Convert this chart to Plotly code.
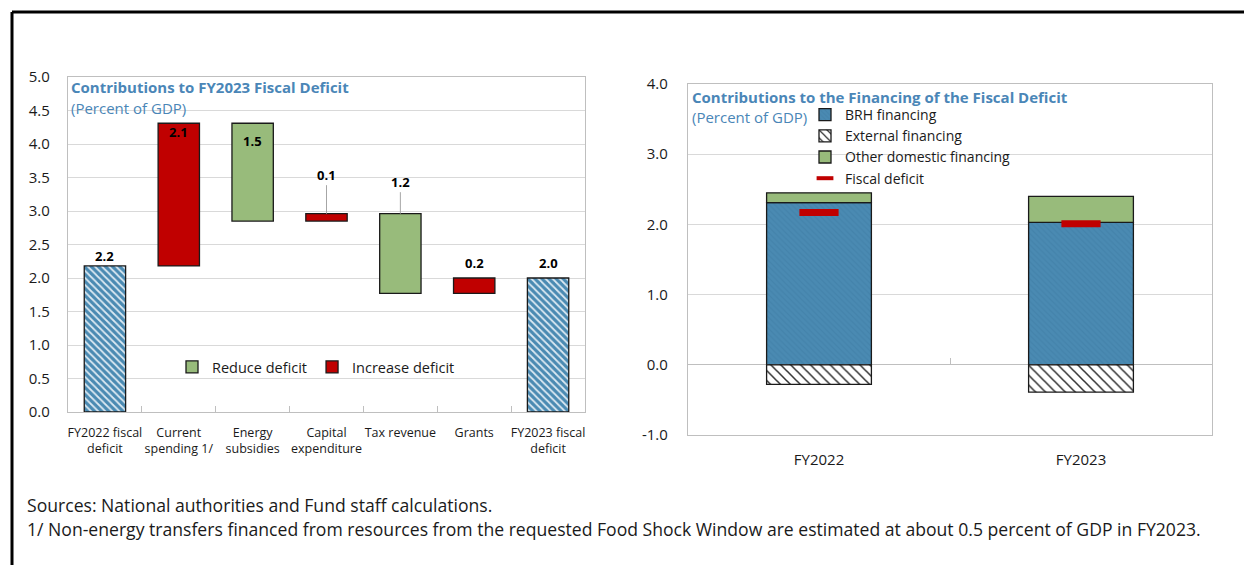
import plotly.graph_objects as go

# ---------------- data ----------------
# Left panel: waterfall of FY2023 fiscal deficit (percent of GDP)
wf_categories = ["FY2022 fiscal<br>deficit", "Current<br>spending 1/", "Energy<br>subsidies",
                 "Capital<br>expenditure", "Tax revenue", "Grants", "FY2023 fiscal<br>deficit"]
fy2022_deficit = 2.18
contributions = [2.13, -1.46, 0.11, -1.19, 0.23]   # current spending .. grants
left_yticks = [0.0, 0.5, 1.0, 1.5, 2.0, 2.5, 3.0, 3.5, 4.0, 4.5, 5.0]

# Right panel: financing of the fiscal deficit (percent of GDP)
years = ["FY2022", "FY2023"]
brh_financing = [2.31, 2.03]
external_financing = [-0.28, -0.39]
other_domestic = [0.14, 0.37]
fiscal_deficit = [2.17, 2.01]
right_yticks = [-1.0, 0.0, 1.0, 2.0, 3.0, 4.0]

# ---------------- styling ----------------
W, H = 1244, 565
FONT = "Open Sans, Noto Sans, sans-serif"
BLUE = "#4a8ab2"
TITLE_BLUE = "#4a86b7"
RED = "#c00000"
GREEN = "#98bb7b"
GRID = "#d9d9d9"
FRAME = "#bfbfbf"
TXT = "#1a1a1a"


def px_x(px):
    return px / W


def px_y(py):
    return 1 - py / H


left_dom_x = [px_x(68), px_x(585)]
left_dom_y = [px_y(412), px_y(77)]
right_dom_x = [px_x(688), px_x(1212)]
right_dom_y = [px_y(435), px_y(84)]
left_range = [0, 5]
right_range = [-1, 4]

# ---------------- waterfall geometry ----------------
fy2023_deficit = fy2022_deficit + sum(contributions)
inc_x, inc_base, inc_h = [], [], []
red_x, red_base, red_h = [], [], []
tops = [fy2022_deficit]
level = fy2022_deficit
for cat, c in zip(wf_categories[1:-1], contributions):
    if c >= 0:
        inc_x.append(cat); inc_base.append(level); inc_h.append(c)
    else:
        red_x.append(cat); red_base.append(level + c); red_h.append(-c)
    tops.append(max(level, level + c))
    level += c
tops.append(fy2023_deficit)
label_values = [fy2022_deficit] + [abs(c) for c in contributions] + [fy2023_deficit]

fig = go.Figure()

outline = dict(color="#1a1a1a", width=1.3)

fig.add_trace(go.Bar(
    x=[wf_categories[0], wf_categories[-1]], y=[fy2022_deficit, fy2023_deficit], base=[0, 0],
    width=0.56, xaxis="x", yaxis="y", showlegend=False, hoverinfo="skip",
    marker=dict(color=BLUE, line=outline,
                pattern=dict(shape="\\", fillmode="replace", bgcolor=BLUE,
                             fgcolor="#dce9f2", size=5, solidity=0.35)),
))
fig.add_trace(go.Bar(
    x=red_x, y=red_h, base=red_base, width=0.56, name="Reduce deficit",
    xaxis="x", yaxis="y", legend="legend", hoverinfo="skip",
    marker=dict(color=GREEN, line=outline),
))
fig.add_trace(go.Bar(
    x=inc_x, y=inc_h, base=inc_base, width=0.56, name="Increase deficit",
    xaxis="x", yaxis="y", legend="legend", hoverinfo="skip",
    marker=dict(color=RED, line=outline),
))

# value labels: (vertical shift in px, leader-line length in px or None)
label_style = [(10, None), (-9, None), (-18, None), (0, -39), (0, -32), (15, None), (15, None)]
for cat, top, val, (shift, leader) in zip(wf_categories, tops, label_values, label_style):
    common = dict(x=cat, y=top, xref="x", yref="y", text="<b>%.1f</b>" % val,
                  font=dict(family=FONT, size=13, color="#000"))
    if leader is None:
        fig.add_annotation(**common, showarrow=False, yshift=shift)
    else:
        fig.add_annotation(**common, showarrow=True, arrowhead=0, arrowwidth=1,
                           arrowcolor="#a6a6a6", ax=0, ay=leader, standoff=0)

# ---------------- financing bars ----------------
fig.add_trace(go.Bar(
    x=years, y=brh_financing, base=[0, 0], width=0.4, name="BRH financing",
    xaxis="x2", yaxis="y2", legend="legend2", hoverinfo="skip",
    marker=dict(color=BLUE, line=outline,
                pattern=dict(shape="\\", fillmode="replace", bgcolor=BLUE,
                             fgcolor="#4483ab", size=4, solidity=0.3)),
))
fig.add_trace(go.Bar(
    x=years, y=external_financing, base=[0, 0], width=0.4, name="External financing",
    xaxis="x2", yaxis="y2", legend="legend2", hoverinfo="skip",
    marker=dict(color="white", line=outline,
                pattern=dict(shape="\\", fillmode="replace", bgcolor="white",
                             fgcolor="#333333", size=7, solidity=0.22)),
))
fig.add_trace(go.Bar(
    x=years, y=other_domestic, base=brh_financing, width=0.4, name="Other domestic financing",
    xaxis="x2", yaxis="y2", legend="legend2", hoverinfo="skip",
    marker=dict(color=GREEN, line=outline),
))
fig.add_trace(go.Scatter(
    x=years, y=fiscal_deficit, mode="markers", name="Fiscal deficit", showlegend=False,
    xaxis="x2", yaxis="y2", hoverinfo="skip",
    marker=dict(symbol="line-ew", size=28, color=RED, line=dict(color=RED, width=7)),
))
# legend key for the fiscal-deficit dash (no data of its own)
fig.add_trace(go.Scatter(
    x=[None], y=[None], mode="markers", name="Fiscal deficit",
    xaxis="x2", yaxis="y2", legend="legend2", hoverinfo="skip",
    marker=dict(symbol="line-ew", size=12, color=RED, line=dict(color=RED, width=4)),
))
# helper trace so the zero-crossing category axis is rendered
fig.add_trace(go.Scatter(x=[None], y=[None], xaxis="x3", yaxis="y2",
                         showlegend=False, hoverinfo="skip"))

zero_pos = right_dom_y[0] + (0 - right_range[0]) / (right_range[1] - right_range[0]) * (right_dom_y[1] - right_dom_y[0])

tick_font = dict(family=FONT, size=15, color=TXT)

fig.update_layout(
    width=W, height=H, margin=dict(l=0, r=0, t=0, b=0, autoexpand=False),
    paper_bgcolor="white", plot_bgcolor="white",
    barmode="overlay", font=dict(family=FONT, color=TXT),
    xaxis=dict(domain=left_dom_x, anchor="y", type="category", automargin=False,
               categoryorder="array", categoryarray=wf_categories,
               range=[-0.5, len(wf_categories) - 0.5], tickangle=0,
               showline=True, linecolor=FRAME, linewidth=1.3, mirror=True,
               ticks="inside", tickson="boundaries", ticklen=6, tickcolor=FRAME,
               showgrid=False, tickfont=dict(family=FONT, size=12.5, color=TXT),
               ticklabelstandoff=9),
    yaxis=dict(domain=left_dom_y, anchor="x", range=left_range, automargin=False,
               tickvals=left_yticks, ticktext=["%.1f" % v for v in left_yticks],
               showgrid=True, gridcolor=GRID, gridwidth=1,
               showline=True, linecolor=FRAME, linewidth=1.3, mirror=True,
               zeroline=False, ticks="", ticklabelstandoff=14, tickfont=tick_font),
    xaxis2=dict(domain=right_dom_x, anchor="y2", type="category", automargin=False,
                categoryorder="array", categoryarray=years, range=[-0.5, 1.5], tickangle=0,
                showline=True, linecolor=FRAME, linewidth=1.3, mirror=True,
                ticks="", showgrid=False, tickfont=tick_font, ticklabelstandoff=11),
    xaxis3=dict(overlaying="x2", anchor="free", position=zero_pos, type="linear",
                range=[-0.5, 1.5], tickvals=[0.5], ticks="inside", ticklen=7,
                tickcolor=FRAME, showticklabels=False, showgrid=False,
                showline=False, zeroline=False, automargin=False),
    yaxis2=dict(domain=right_dom_y, anchor="x2", range=right_range, automargin=False,
                tickvals=right_yticks, ticktext=["%.1f" % v for v in right_yticks],
                showgrid=True, gridcolor=GRID, gridwidth=1,
                showline=True, linecolor=FRAME, linewidth=1.3, mirror=True,
                zeroline=True, zerolinecolor=FRAME, zerolinewidth=1.3,
                ticks="", ticklabelstandoff=16, tickfont=tick_font),
    legend=dict(orientation="h", x=px_x(172), y=px_y(367), xanchor="left", yanchor="middle",
                bgcolor="rgba(0,0,0,0)", font=dict(family=FONT, size=14.5, color=TXT),
                traceorder="normal"),
    legend2=dict(orientation="v", x=px_x(805), y=px_y(99), xanchor="left", yanchor="top",
                 bgcolor="rgba(0,0,0,0)", font=dict(family=FONT, size=14, color=TXT),
                 traceorder="normal", tracegroupgap=0),
)

# panel titles
titles = [
    (69, 87, "<b>Contributions to FY2023 Fiscal Deficit</b>", 15),
    (69, 108, "(Percent of GDP)", 15),
    (690, 97, "<b>Contributions to the Financing of the Fiscal Deficit</b>", 15),
    (690, 117, "(Percent of GDP)", 15),
]
for x0, y0, t, fs in titles:
    fig.add_annotation(x=px_x(x0), y=px_y(y0), xref="paper", yref="paper", text=t,
                       showarrow=False, xanchor="left", yanchor="middle",
                       font=dict(family=FONT, size=fs, color=TITLE_BLUE))

# footnotes
notes = [
    (505, "Sources: National authorities and Fund staff calculations."),
    (529, "1/ Non-energy transfers financed from resources from the requested Food Shock Window "
          "are estimated at about 0.5 percent of GDP in FY2023."),
]
for y0, t in notes:
    fig.add_annotation(x=px_x(25), y=px_y(y0), xref="paper", yref="paper", text=t,
                       showarrow=False, xanchor="left", yanchor="middle",
                       font=dict(family=FONT, size=17.6, color=TXT))

# outer frame (top and left edges)
frame = dict(color="black", width=3)
fig.add_shape(type="line", xref="paper", yref="paper", x0=px_x(12), x1=1, y0=px_y(12), y1=px_y(12), line=frame)
fig.add_shape(type="line", xref="paper", yref="paper", x0=px_x(12), x1=px_x(12), y0=px_y(12), y1=0, line=frame)

fig.write_html("out.html")
